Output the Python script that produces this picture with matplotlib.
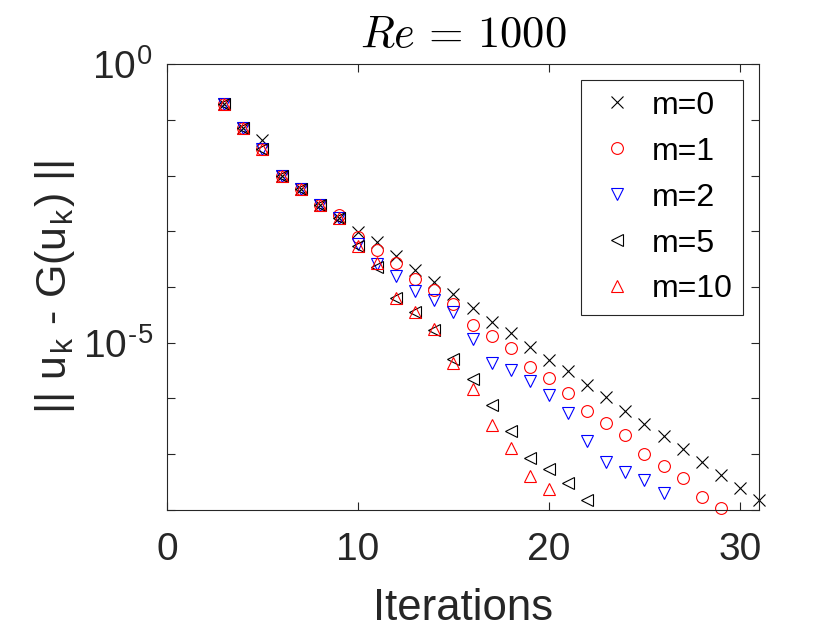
import numpy as np
import matplotlib
matplotlib.use("Agg")
import matplotlib.pyplot as plt
from matplotlib.ticker import FixedLocator, FixedFormatter, NullFormatter

plt.rcParams['font.family'] = ['Liberation Sans', 'DejaVu Sans']
plt.rcParams['mathtext.fontset'] = 'cm'
dark = '#262626'

# residual norms, iterations start at 3
res_m0 = [0.193, 0.0711, 0.0440, 0.0100, 0.00578, 0.00291, 0.00176,
          9.5e-4, 6.3e-4, 3.6e-4, 2.0e-4, 1.23e-4, 7.5e-5, 4.2e-5, 2.4e-5,
          1.48e-5, 8.5e-6, 5.0e-6, 3.1e-6, 1.74e-6, 1.05e-6, 5.9e-7, 3.5e-7,
          2.1e-7, 1.23e-7, 7.2e-8, 4.2e-8, 2.45e-8, 1.48e-8]
res_m1 = [0.193, 0.0711, 0.0300, 0.0100, 0.00578, 0.00291, 0.00195,
          7.9e-4, 4.6e-4, 2.7e-4, 1.38e-4, 8.9e-5, 5.0e-5, 2.1e-5, 1.32e-5,
          8.1e-6, 3.7e-6, 2.3e-6, 1.26e-6, 5.9e-7, 3.7e-7, 2.2e-7, 1.02e-7,
          6.2e-8, 3.7e-8, 1.7e-8, 1.1e-8]
res_m2 = [0.193, 0.0711, 0.0300, 0.0100, 0.00578, 0.00291, 0.00176,
          5.9e-4, 2.6e-4, 1.55e-4, 8.5e-5, 5.8e-5, 3.5e-5, 1.17e-5, 4.4e-6,
          3.2e-6, 2.1e-6, 1.15e-6, 5.5e-7, 1.74e-7, 7.2e-8, 4.8e-8, 3.5e-8,
          2.0e-8]
res_m5 = [0.193, 0.0711, 0.0300, 0.0100, 0.00578, 0.00291, 0.00176,
          5.5e-4, 2.24e-4, 6.3e-5, 3.6e-5, 1.7e-5, 5.1e-6, 2.2e-6, 7.6e-7,
          2.6e-7, 8.5e-8, 5.5e-8, 3.0e-8, 1.5e-8]
res_m10 = [0.193, 0.0711, 0.0300, 0.0100, 0.00578, 0.00291, 0.00176,
           5.5e-4, 2.75e-4, 6.3e-5, 3.6e-5, 1.78e-5, 4.3e-6, 1.45e-6, 3.3e-7,
           1.29e-7, 4.1e-8, 2.4e-8]

series = [
    ('m=0', res_m0, 'x', 'k'),
    ('m=1', res_m1, 'o', 'r'),
    ('m=2', res_m2, 'v', 'b'),
    ('m=5', res_m5, '<', 'k'),
    ('m=10', res_m10, '^', 'r'),
]

fig = plt.figure(figsize=(8.4, 6.3), dpi=100)
ax = fig.add_axes([0.1988, 0.1905, 0.7048, 0.7079])

for lab, vals, mk, col in series:
    it = np.arange(3, 3 + len(vals))
    ax.semilogy(it, vals, linestyle='none', marker=mk, color=col,
                markerfacecolor='none', markeredgecolor=col, markersize=8.5,
                markeredgewidth=0.8, label=lab, clip_on=False)

ax.set_xlim(0, 31)
ax.set_ylim(1e-8, 1e0)
ax.set_xticks([0, 10, 20, 30])
ax.yaxis.set_major_locator(FixedLocator([1e-5, 1e0]))
# plain hyphen in the exponent, like the MATLAB labels
ax.yaxis.set_major_formatter(FixedFormatter(['10$^{\\mathregular{\u20105}}$',
                                             r'10$^{\mathregular{0}}$']))
ax.yaxis.set_minor_locator(FixedLocator([10.0 ** k for k in range(-8, 1)]))
ax.yaxis.set_minor_formatter(NullFormatter())
ax.tick_params(which='both', direction='in', top=True, right=True,
               length=6, width=0.8, labelsize=28, colors=dark)
ax.tick_params(axis='x', pad=16)
ax.tick_params(axis='y', pad=10)
for s in ax.spines.values():
    s.set_linewidth(0.8)
    s.set_color(dark)

ax.set_xlabel('Iterations', fontsize=31.5, labelpad=14, color=dark)
ax.set_ylabel(r'|| u$_\mathregular{k}$ - G(u$_\mathregular{k}$) ||',
              fontsize=31, labelpad=4, color=dark)
ax.set_title(r'$Re\,=\,1000$', fontsize=32, pad=12)

leg = ax.legend(loc='upper right', bbox_to_anchor=(0.973, 0.964),
                borderaxespad=0, fontsize=23, fancybox=False, framealpha=1,
                edgecolor=dark, labelspacing=0.50, handlelength=1.55,
                handletextpad=0.32, borderpad=0.33)
leg.get_frame().set_linewidth(0.8)
for t in leg.get_texts():
    t.set_color('k')

fig.savefig('out.png', dpi=100)
